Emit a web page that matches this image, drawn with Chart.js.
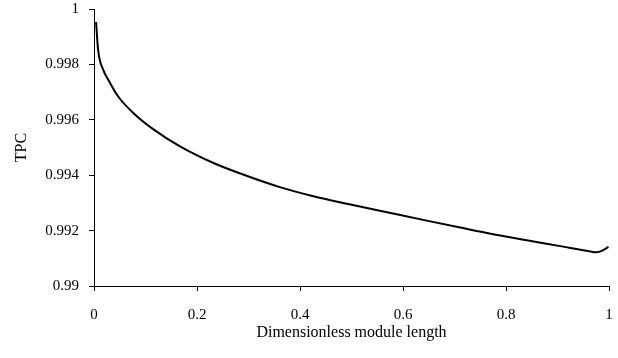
<!DOCTYPE html>
<html>
<head>
<meta charset="utf-8">
<script src="https://cdn.jsdelivr.net/npm/chart.js@4/dist/chart.umd.min.js"></script>
<style>
  html, body { margin: 0; padding: 0; background: #fff; }
  #wrap { width: 618px; height: 358px; }
</style>
</head>
<body>
<div id="wrap"><canvas id="tpc-chart" width="618" height="358"></canvas></div>
<script>
// values
const moduleLength = [0.004, 0.008, 0.018, 0.028, 0.047, 0.080, 0.112, 0.167, 0.232, 0.296, 0.361, 0.426, 0.491, 0.555, 0.646, 0.711, 0.775, 0.840, 0.905, 0.963, 0.976, 0.986, 0.999];
const tpcValues = [0.99953, 0.99852, 0.99780, 0.99744, 0.99684, 0.99618, 0.99570, 0.99504, 0.99444, 0.99398, 0.99357, 0.99324, 0.99297, 0.99272, 0.99236, 0.99211, 0.99187, 0.99165, 0.99144, 0.99125, 0.99122, 0.99127, 0.99141];
const xTicks = [0, 0.2, 0.4, 0.6, 0.8, 1];
const yTicks = [0.99, 0.992, 0.994, 0.996, 0.998, 1];

const serif = "'Liberation Serif', 'Times New Roman', serif";
const points = moduleLength.map((x, i) => ({ x: x, y: tpcValues[i] }));

// keep the plot box where the reference has it
function noEdgePadding(s) {
    s.paddingTop = 0;
    s.paddingBottom = 0;
    s.paddingLeft = 0;
    s.paddingRight = 0;
}

new Chart(document.getElementById('tpc-chart'), {
    type: 'line',
    data: {
        datasets: [{
            label: 'TPC',
            data: points,
            borderColor: '#000',
            borderWidth: 2,
            pointRadius: 0,
            cubicInterpolationMode: 'monotone',
            fill: false
        }]
    },
    options: {
        responsive: false,
        animation: false,
        layout: { autoPadding: false, padding: { left: 8, top: 9, right: 9, bottom: 12 } },
        plugins: { legend: { display: false }, tooltip: { enabled: false } },
        scales: {
            x: {
                type: 'linear',
                min: 0,
                max: 1,
                afterFit: (s) => { s.height = 60; noEdgePadding(s); },
                afterBuildTicks: (s) => { s.ticks = xTicks.map(v => ({ value: v })); },
                ticks: {
                    color: '#000',
                    font: { family: serif, size: 15 },
                    padding: 15,
                    maxRotation: 0,
                    callback: (v) => String(+v.toFixed(1))
                },
                grid: { drawOnChartArea: false, color: '#000', tickLength: 5 },
                border: { color: '#000', width: 1 },
                title: {
                    display: true,
                    text: 'Dimensionless module length',
                    color: '#000',
                    font: { family: serif, size: 16 }
                }
            },
            y: {
                min: 0.99,
                max: 1,
                afterFit: (s) => { s.width = 86; noEdgePadding(s); },
                afterBuildTicks: (s) => { s.ticks = yTicks.map(v => ({ value: v })); },
                ticks: {
                    color: '#000',
                    font: { family: serif, size: 15 },
                    padding: 10,
                    callback: (v) => String(+v.toFixed(3))
                },
                grid: { drawOnChartArea: false, color: '#000', tickLength: 5 },
                border: { color: '#000', width: 1 },
                title: {
                    display: true,
                    text: 'TPC',
                    color: '#000',
                    font: { family: serif, size: 16 }
                }
            }
        }
    }
});
</script>
</body>
</html>
